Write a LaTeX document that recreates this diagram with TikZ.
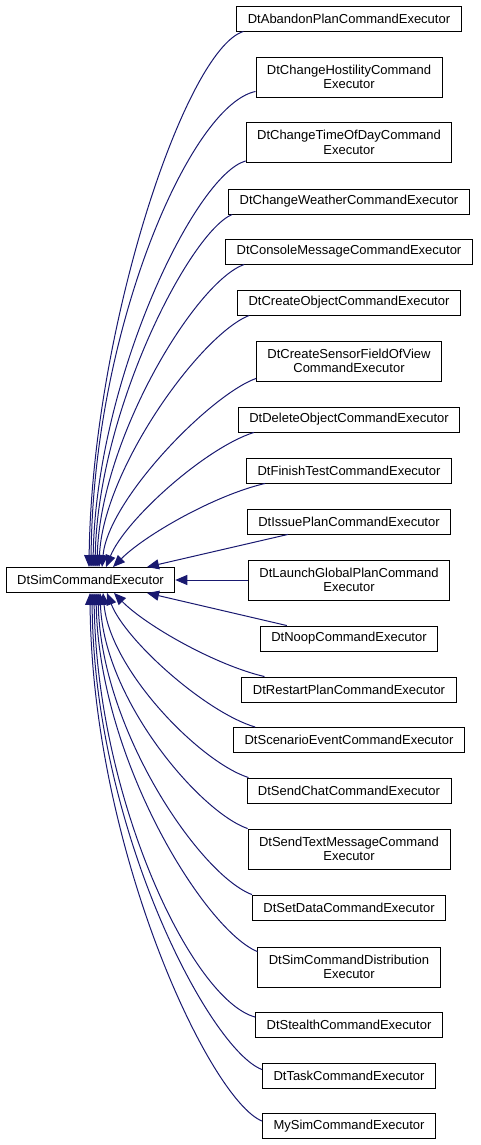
\documentclass[tikz,border=0pt]{standalone}
\usepackage{fontspec}
\setmainfont{Liberation Sans}
\usetikzlibrary{arrows.meta}

\definecolor{midnight}{HTML}{191970}

\tikzset{
	cls/.style={draw=black,fill=white,line width=0.9pt,inner xsep=11pt,inner ysep=0pt,
		align=center,font=\fontsize{13}{14.5}\selectfont},
	inh/.style={draw=midnight,line width=1pt,-{Triangle[length=12pt,width=10pt]}}
}

\begin{document}
\begin{tikzpicture}[x=1pt,y=-1pt]
\useasboundingbox (0,0) rectangle (480,1145);

\node[cls,minimum height=25pt] (base) at (90.5,580) {DtSimCommandExecutor};

\foreach \n/\y/\h/\t in {
	c1/18.5/25/DtAbandonPlanCommandExecutor,
	c2/77/40/{DtChangeHostilityCommand\\Executor},
	c3/142.5/40/{DtChangeTimeOfDayCommand\\Executor},
	c4/201.5/25/DtChangeWeatherCommandExecutor,
	c5/251.5/25/DtConsoleMessageCommandExecutor,
	c6/302.5/25/DtCreateObjectCommandExecutor,
	c7/361/40/{DtCreateSensorFieldOfView\\CommandExecutor},
	c8/419.5/25/DtDeleteObjectCommandExecutor,
	c9/470.5/25/DtFinishTestCommandExecutor,
	c10/521.5/25/DtIssuePlanCommandExecutor,
	c11/580/40/{DtLaunchGlobalPlanCommand\\Executor},
	c12/638.5/25/DtNoopCommandExecutor,
	c13/689.5/25/DtRestartPlanCommandExecutor,
	c14/740/25/DtScenarioEventCommandExecutor,
	c15/790.5/25/DtSendChatCommandExecutor,
	c16/849/40/{DtSendTextMessageCommand\\Executor},
	c17/907.5/25/DtSetDataCommandExecutor,
	c18/967/40/{DtSimCommandDistribution\\Executor},
	c19/1025/25/DtStealthCommandExecutor,
	c20/1075.5/25/DtTaskCommandExecutor,
	c21/1126/25/MySimCommandExecutor} {
	\node[cls,minimum height=\h pt] (\n) at (349,\y) {\t};
}

% above
\draw[inh] ([xshift=7pt]c1.south west) .. controls (185,50) and (92,330) .. ([xshift=-1.5pt]base.north);
\draw[inh] ([yshift=6pt]c2.south west) .. controls (190,105) and (93,330) .. ([xshift=0.5pt]base.north);
\draw[inh] ([yshift=2pt]c3.south west) .. controls (195,175) and (96,380) .. ([xshift=2.5pt]base.north);
\draw[inh] ([xshift=4pt]c4.south west) .. controls (190,232) and (98,410) .. ([xshift=4.5pt]base.north);
\draw[inh] ([xshift=19pt]c5.south west) .. controls (195,282) and (100,440) .. ([xshift=6.5pt]base.north);
\draw[inh] ([xshift=12pt]c6.south west) .. controls (200,335) and (103,470) .. ([xshift=8.5pt]base.north);
\draw[inh] ([yshift=3pt]c7.south west) .. controls (210,395) and (108,500) .. ([xshift=11.5pt]base.north);
\draw[inh] ([xshift=16pt]c8.south west) .. controls (205,448) and (125,520) .. ([xshift=15.5pt]base.north);
\draw[inh] ([xshift=19pt]c9.south west) .. controls (215,495) and (145,535) .. ([xshift=22.5pt]base.north);
\draw[inh] ([xshift=41pt]c10.south west) -- ([xshift=56.5pt]base.north);
\draw[inh] (c11) -- (base);
% below
\draw[inh] ([xshift=27pt]c12.north west) -- ([xshift=56.5pt]base.south);
\draw[inh] ([xshift=23pt]c13.north west) .. controls (215,665) and (145,625) .. ([xshift=23.5pt]base.south);
\draw[inh] ([xshift=22pt]c14.north west) .. controls (205,712) and (125,640) .. ([xshift=16.5pt]base.south);
\draw[inh] ([xshift=2pt]c15.north west) .. controls (200,762) and (110,670) .. ([xshift=12.5pt]base.south);
\draw[inh] (c16.north west) .. controls (200,812) and (104,700) .. ([xshift=9.5pt]base.south);
\draw[inh] (c17.north west) .. controls (200,875) and (101,730) .. ([xshift=7.5pt]base.south);
\draw[inh] ([yshift=-5pt]c18.north west) .. controls (205,930) and (99,760) .. ([xshift=5.5pt]base.south);
\draw[inh] ([yshift=-5pt]c19.north west) .. controls (192,1000) and (97,800) .. ([xshift=3.5pt]base.south);
\draw[inh] ([yshift=-7pt]c20.north west) .. controls (210,1050) and (94,830) .. ([xshift=1.5pt]base.south);
\draw[inh] ([yshift=-8pt]c21.north west) .. controls (210,1100) and (92,850) .. ([xshift=-0.5pt]base.south);

\end{tikzpicture}
\end{document}
